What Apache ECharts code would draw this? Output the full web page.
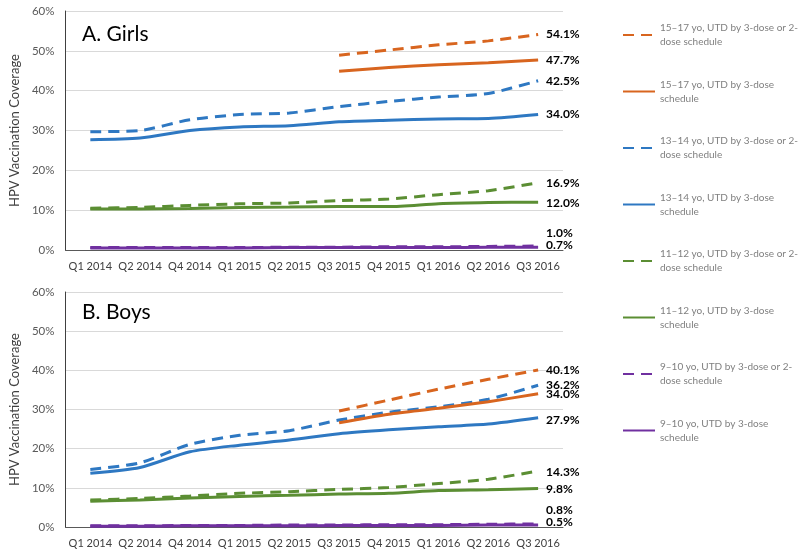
<!DOCTYPE html>
<html>
<head>
<meta charset="utf-8">
<script src="https://cdn.jsdelivr.net/npm/echarts@6/dist/echarts.min.js"></script>
<style>html,body{margin:0;padding:0;background:#fff;}#chart{width:800px;height:556px;}</style>
</head>
<body>
<div id="chart"></div>
<script>
const categories = ['Q1 2014','Q2 2014','Q4 2014','Q1 2015','Q2 2015','Q3 2015','Q4 2015','Q1 2016','Q2 2016','Q3 2016'];
const yTicks = [0, 10, 20, 30, 40, 50, 60];

const seriesNames = [
  '15–17 yo, UTD by 3-dose or 2-dose schedule',
  '15–17 yo, UTD by 3-dose schedule',
  '13–14 yo, UTD by 3-dose or 2-dose schedule',
  '13–14 yo, UTD by 3-dose schedule',
  '11–12 yo, UTD by 3-dose or 2-dose schedule',
  '11–12 yo, UTD by 3-dose schedule',
  '9–10 yo, UTD by 3-dose or 2-dose schedule',
  '9–10 yo, UTD by 3-dose schedule'
];

// Girls
const girls15_17_any = [null,null,null,null,null,48.9,50.2,51.5,52.5,54.1];
const girls15_17_3   = [null,null,null,null,null,44.9,45.8,46.5,47.0,47.7];
const girls13_14_any = [29.7,30.0,32.7,34.0,34.4,36.0,37.3,38.4,39.3,42.5];
const girls13_14_3   = [27.7,28.1,30.0,30.9,31.2,32.2,32.6,32.9,33.0,34.0];
const girls11_12_any = [10.5,10.7,11.2,11.6,11.8,12.4,12.8,13.9,14.9,16.9];
const girls11_12_3   = [10.3,10.3,10.4,10.7,10.8,10.9,10.9,11.6,11.9,12.0];
const girls9_10_any  = [0.6,0.6,0.6,0.6,0.7,0.7,0.8,0.8,0.9,1.0];
const girls9_10_3    = [0.5,0.5,0.5,0.5,0.6,0.6,0.6,0.6,0.7,0.7];

// Boys
const boys15_17_any = [null,null,null,null,null,29.6,32.4,35.2,37.7,40.1];
const boys15_17_3   = [null,null,null,null,null,26.6,28.8,30.3,32.0,34.0];
const boys13_14_any = [14.7,16.4,21.1,23.4,24.6,27.3,29.3,30.7,32.6,36.2];
const boys13_14_3   = [13.7,15.2,19.2,20.9,22.2,23.8,24.8,25.6,26.3,27.9];
const boys11_12_any = [6.9,7.3,7.9,8.6,9.0,9.6,10.1,11.1,12.2,14.3];
const boys11_12_3   = [6.6,6.9,7.4,7.8,8.1,8.4,8.6,9.3,9.5,9.8];
const boys9_10_any  = [0.3,0.3,0.4,0.4,0.5,0.5,0.6,0.6,0.7,0.8];
const boys9_10_3    = [0.2,0.2,0.3,0.3,0.3,0.4,0.4,0.4,0.5,0.5];

const girlsData = [girls15_17_any, girls15_17_3, girls13_14_any, girls13_14_3, girls11_12_any, girls11_12_3, girls9_10_any, girls9_10_3];
const boysData  = [boys15_17_any, boys15_17_3, boys13_14_any, boys13_14_3, boys11_12_any, boys11_12_3, boys9_10_any, boys9_10_3];

// styles
const colors = ['#D8651F','#D8651F','#2E78C2','#2E78C2','#5B8E33','#5B8E33','#7030A0','#7030A0'];
const dashed = [true,false,true,false,true,false,true,false];
const girlsLabelOffset = [0,0,0,0,0,1,-13,-2];
const boysLabelOffset  = [0,0,0,2,1,1,-14,-3];
const legendText = {
  '15–17 yo, UTD by 3-dose or 2-dose schedule': '15–17 yo, UTD by 3-dose or 2-\ndose schedule',
  '15–17 yo, UTD by 3-dose schedule': '15–17 yo, UTD by 3-dose\nschedule',
  '13–14 yo, UTD by 3-dose or 2-dose schedule': '13–14 yo, UTD by 3-dose or 2-\ndose schedule',
  '13–14 yo, UTD by 3-dose schedule': '13–14 yo, UTD by 3-dose\nschedule',
  '11–12 yo, UTD by 3-dose or 2-dose schedule': '11–12 yo, UTD by 3-dose or 2-\ndose schedule',
  '11–12 yo, UTD by 3-dose schedule': '11–12 yo, UTD by 3-dose\nschedule',
  '9–10 yo, UTD by 3-dose or 2-dose schedule': '9–10 yo, UTD by 3-dose or 2-\ndose schedule',
  '9–10 yo, UTD by 3-dose schedule': '9–10 yo, UTD by 3-dose\nschedule'
};

const FONT = 'Lato, "Open Sans", sans-serif';

function makeSeries(dataArr, idx, offsets) {
  return dataArr.map((d, i) => ({
    name: seriesNames[i],
    type: 'line',
    xAxisIndex: idx,
    yAxisIndex: idx,
    data: d,
    symbol: 'none',
    smooth: 0.25,
    connectNulls: false,
    color: colors[i],
    lineStyle: { color: colors[i], width: 3, type: dashed[i] ? [11, 7] : 'solid', cap: 'butt' },
    z: 10 - i,
    endLabel: {
      show: true,
      formatter: p => p.value.toFixed(1) + '%',
      color: '#000',
      fontWeight: 'bold',
      fontSize: 12,
      fontFamily: FONT,
      distance: 8,
      offset: [0, offsets[i]]
    },
    emphasis: { disabled: true }
  }));
}

function xAxis(idx) {
  return {
    type: 'category',
    gridIndex: idx,
    data: categories,
    boundaryGap: true,
    axisLine: { show: true, lineStyle: { color: '#595959', width: 1 } },
    axisTick: { show: false },
    axisLabel: { color: '#404040', fontSize: 11, fontFamily: FONT, margin: 11, interval: 0 }
  };
}
function yAxis(idx) {
  return {
    type: 'value',
    gridIndex: idx,
    min: yTicks[0],
    max: yTicks[yTicks.length - 1],
    interval: 10,
    name: 'HPV Vaccination Coverage',
    nameLocation: 'middle',
    nameGap: 43,
    nameTextStyle: { color: '#404040', fontSize: 13, fontFamily: FONT },
    axisLine: { show: true, lineStyle: { color: '#404040', width: 1 } },
    axisTick: { show: false },
    axisLabel: { color: '#595959', fontSize: 11.5, fontFamily: FONT, margin: 11, formatter: '{value}%' },
    splitLine: { show: true, lineStyle: { color: '#D9D9D9', width: 1 } }
  };
}

const option = {
  animation: false,
  backgroundColor: '#fff',
  title: [
    { text: 'A. Girls', left: 82, top: 24, padding: 0, textStyle: { fontSize: 21, fontWeight: 'normal', color: '#000', fontFamily: FONT } },
    { text: 'B. Boys', left: 82, top: 302, padding: 0, textStyle: { fontSize: 21, fontWeight: 'normal', color: '#000', fontFamily: FONT } }
  ],
  grid: [
    { left: 60, top: 11, width: 503, height: 239 },
    { left: 60, top: 292, width: 503, height: 235 }
  ],
  legend: {
    orient: 'vertical',
    left: 622,
    top: 14,
    padding: 0,
    itemWidth: 32,
    itemHeight: 14,
    itemGap: 14.5,
    selectedMode: false,
    data: seriesNames,
    itemStyle: { opacity: 0, borderWidth: 0 },
    formatter: name => legendText[name],
    textStyle: { color: '#808080', fontSize: 10, fontFamily: FONT, lineHeight: 14, padding: [14, 0, 0, 0] }
  },
  xAxis: [xAxis(0), xAxis(1)],
  yAxis: [yAxis(0), yAxis(1)],
  series: [...makeSeries(girlsData, 0, girlsLabelOffset), ...makeSeries(boysData, 1, boysLabelOffset)]
};

const chart = echarts.init(document.getElementById('chart'), null, { renderer: 'canvas' });
chart.setOption(option);
</script>
</body>
</html>
